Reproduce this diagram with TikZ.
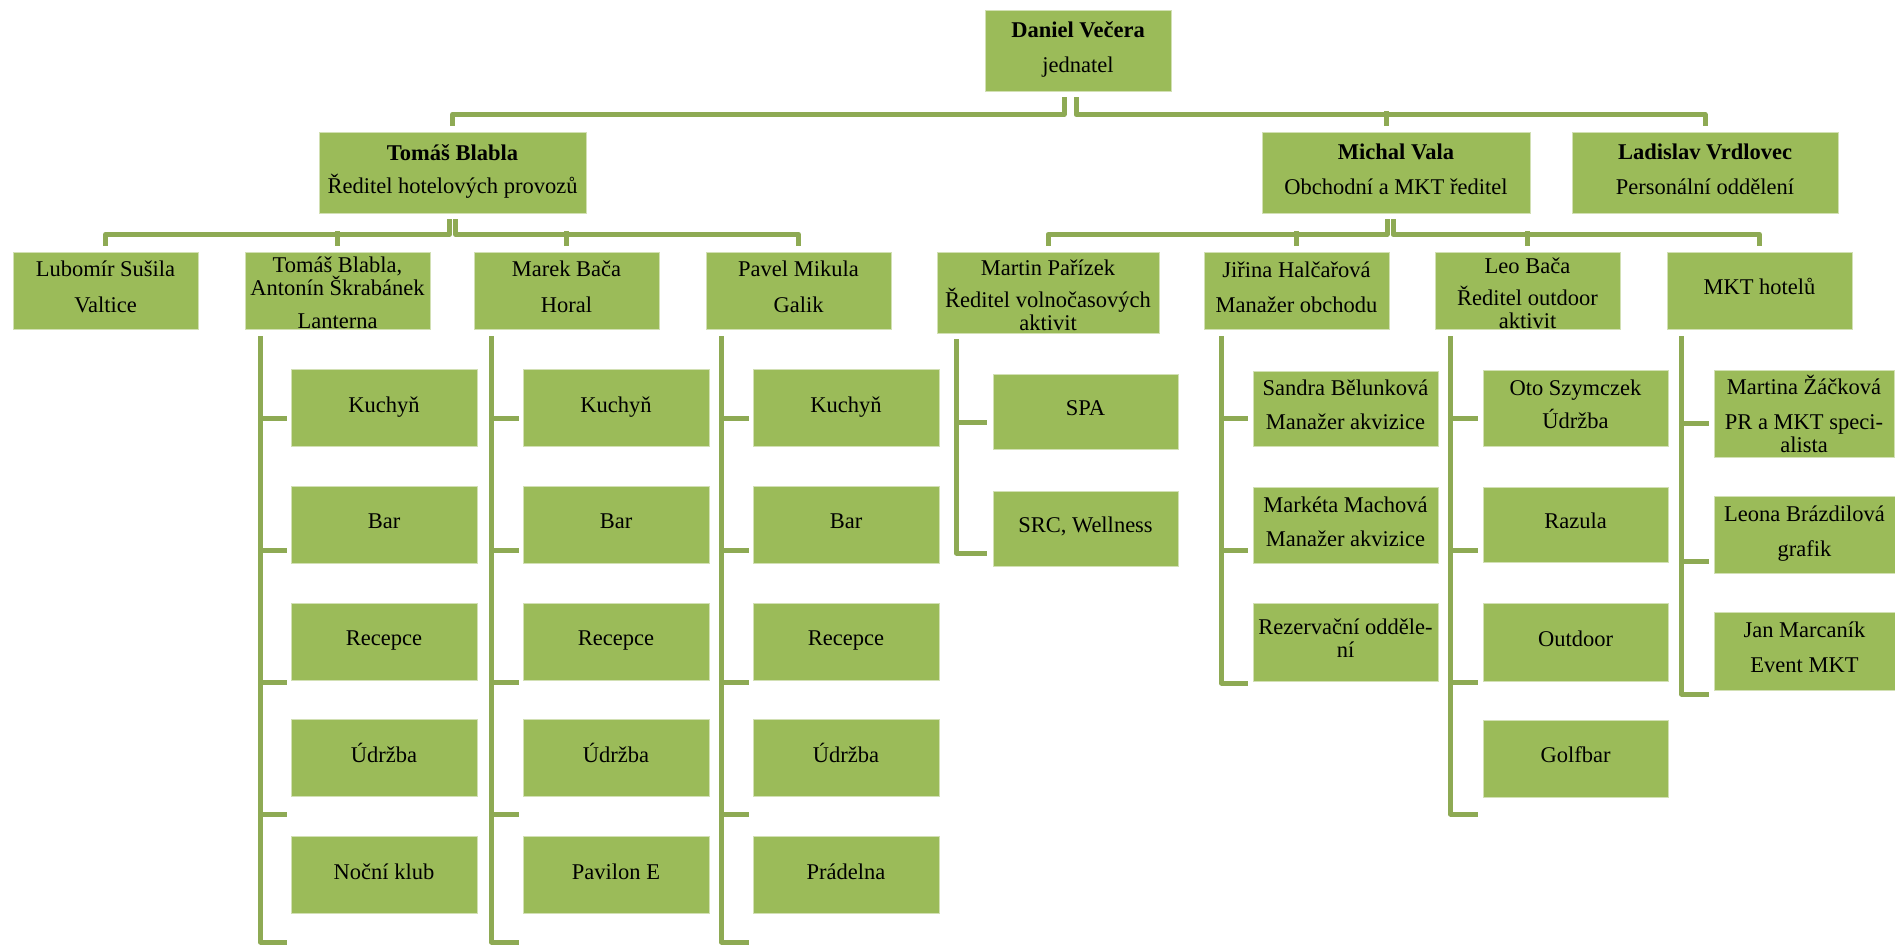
\documentclass[tikz,border=0pt]{standalone}
\usepackage{fontspec}
\setmainfont{Liberation Serif}
\usetikzlibrary{calc}
\definecolor{boxg}{RGB}{155,187,89}
\definecolor{lineg}{RGB}{142,170,84}
\newcommand\hs{\rule{0pt}{0.9em}}
\newcommand\ds{\rule[-0.54em]{0pt}{0.54em}}
\newcommand\boxfont{\fontsize{22.5}{23}\selectfont\lineskiplimit=-100pt\relax}
\tikzset{
  box/.style={rectangle, fill=boxg, draw=white!55!boxg, line width=0.8pt,
    inner sep=0pt, align=center, font=\boxfont,
    minimum width=186pt, minimum height=77pt},
  conn/.style={draw=lineg, line width=5pt, line join=round},
}
\begin{document}
\begin{tikzpicture}[x=1pt,y=-1pt]
\useasboundingbox (0,0) rectangle (1895,946);

% level 1 and 2
\node[box,minimum height=81pt] (dv) at (1078,50.5) {\hs\textbf{Daniel Večera}\\[12pt]jednatel\ds};
\node[box,minimum width=267pt,minimum height=81pt] (tb) at (452.5,172.5) {\hs\textbf{Tomáš Blabla}\\[10pt]Ředitel hotelových provozů\ds};
\node[box,minimum width=268pt,minimum height=81pt] (mv) at (1396,172.5) {\hs\textbf{Michal Vala}\\[12pt]Obchodní a MKT ředitel\ds};
\node[box,minimum width=266pt,minimum height=81pt] (lv) at (1705,172.5) {\hs\textbf{Ladislav Vrdlovec}\\[12pt]Personální oddělení\ds};

% level 3
\node[box,minimum width=185pt] (ls) at (105.5,290.5) {\hs Lubomír Sušila\\[13pt]Valtice\ds};
\node[box,minimum width=185pt] (ta) at (337.5,290.5) {\hs Tomáš Blabla,\\Antonín Škrabánek\\[10pt]Lanterna};
\node[box,minimum width=185pt] (mb) at (566.5,290.5) {\hs Marek Bača\\[13pt]Horal\ds};
\node[box,minimum width=185pt] (pm) at (798.5,290.5) {\hs Pavel Mikula\\[13pt]Galik\ds};
\node[box,minimum width=222pt,minimum height=81pt] (mp) at (1048,292.5) {\hs Martin Pařízek\\[9pt]Ředitel volnočasových\\aktivit};
\node[box,minimum width=185pt] (jh) at (1296.5,290.5) {\hs Jiřina Halčařová\\[12pt]Manažer obchodu\ds};
\node[box,minimum width=185pt] (lb) at (1527.5,290.5) {\hs Leo Bača\\[9pt]Ředitel outdoor\\aktivit};
\node[box,minimum width=185pt] (mk) at (1759.5,290.5) {\hs\ds MKT hotelů};

% hotel columns
\foreach \c/\x in {a/384, b/616, c/846} {
  \node[box] (\c1) at (\x,408.2) {\hs\ds Kuchyň};
  \node[box] (\c2) at (\x,524.9) {\hs\ds Bar};
  \node[box] (\c3) at (\x,641.6) {\hs\ds Recepce};
  \node[box] (\c4) at (\x,758.3) {\hs\ds Údržba};
}
\node[box] (a5) at (384,875) {\hs\ds Noční klub};
\node[box] (b5) at (616,875) {\hs\ds Pavilon E};
\node[box] (c5) at (846,875) {\hs\ds Prádelna};

% Martin column
\node[box,minimum width=185pt,minimum height=75pt] (s1) at (1085.5,411.5) {\hs\ds SPA};
\node[box,minimum width=185pt,minimum height=75pt] (s2) at (1085.5,528.5) {\hs\ds SRC, Wellness};
% Jirina column
\node[box,minimum width=185pt,minimum height=75pt] (j1) at (1345.5,408.5) {\hs Sandra Bělunková\\[11pt]Manažer akvizice\ds};
\node[box,minimum width=185pt,minimum height=76pt] (j2) at (1345.5,525) {\hs Markéta Machová\\[11pt]Manažer akvizice\ds};
\node[box,minimum width=185pt,minimum height=78pt] (j3) at (1345.5,642) {\hs Rezervační odděle-\\ní\ds};
% Leo column
\node[box,minimum width=185pt,minimum height=76pt] (l1) at (1575.5,408) {\hs Oto Szymczek\\[10pt]Údržba\ds};
\node[box,minimum width=185pt,minimum height=75pt] (l2) at (1575.5,524.5) {\hs\ds Razula};
\node[box,minimum width=185pt,minimum height=78pt] (l3) at (1575.5,642) {\hs\ds Outdoor};
\node[box,minimum width=185pt,minimum height=77pt] (l4) at (1575.5,758.5) {\hs\ds Golfbar};
% MKT column
\node[box,minimum width=180pt,minimum height=87pt] (k1) at (1804,413.5) {\hs Martina Žáčková\\[12pt]PR a MKT speci-\\alista};
\node[box,minimum width=181pt,minimum height=77pt] (k2) at (1804.5,534.5) {\hs Leona Brázdilová\\[12pt]grafik\ds};
\node[box,minimum width=181pt,minimum height=78pt] (k3) at (1804.5,651) {\hs Jan Marcaník\\[12pt]Event MKT\ds};

% connectors: top level
\draw[conn] ([xshift=-14pt,yshift=-6pt]dv.south) -- ++(0,17) -| ([yshift=6pt]tb.north);
\draw[conn] ([xshift=-2pt,yshift=-6pt]dv.south) -- ++(0,17) -| ([yshift=6pt]lv.north);
\draw[conn] ([xshift=-10pt,yshift=6pt]mv.north) -- ++(0,-14.5);

% Tomas children
\draw[conn] ([xshift=-3pt,yshift=-6pt]tb.south) -- ++(0,15) -| ([yshift=6pt]ls.north);
\draw[conn] ([xshift=3pt,yshift=-6pt]tb.south) -- ++(0,15) -| ([yshift=6pt]pm.north);
\draw[conn] ([yshift=6pt]ta.north) -- ++(0,-14.5);
\draw[conn] ([yshift=6pt]mb.north) -- ++(0,-14.5);

% Michal children
\draw[conn] ([xshift=-9pt,yshift=-6pt]mv.south) -- ++(0,15) -| ([yshift=6pt]mp.north);
\draw[conn] ([xshift=-3pt,yshift=-6pt]mv.south) -- ++(0,15) -| ([yshift=6pt]mk.north);
\draw[conn] ([yshift=6pt]jh.north) -- ++(0,-14.5);
\draw[conn] ([yshift=6pt]lb.north) -- ++(0,-14.5);

% hotel column lines
\foreach \c/\p/\d in {a/ta/16, b/mb/18, c/pm/16} {
  \draw[conn] ($(\p.south west)+(\d,7)$) |- ([xshift=-4pt,yshift=-67pt]\c5.west);
  \foreach \i/\o in {1/9.8, 2/25.1, 3/40.4, 4/56.2} {
    \draw[conn] ([xshift=-4pt,yshift=-\o]\c\i.west) -- ++(-29,0);
  }
}

% Martin column lines
\draw[conn] ($(mp.south west)+(20,6)$) |- ([xshift=-6pt,yshift=-24.5]s2.west);
\draw[conn] ([xshift=-6pt,yshift=-10.5]s1.west) -- ++(-32.5,0);

% Jirina column lines
\draw[conn] ($(jh.south west)+(18,7)$) |- ([xshift=-5pt,yshift=-41]j3.west);
\draw[conn] ([xshift=-5pt,yshift=-9.5]j1.west) -- ++(-28.5,0);
\draw[conn] ([xshift=-5pt,yshift=-25]j2.west) -- ++(-28.5,0);

% Leo column lines
\draw[conn] ($(lb.south west)+(16,7)$) |- ([xshift=-5pt,yshift=-55.5]l4.west);
\draw[conn] ([xshift=-5pt,yshift=-10]l1.west) -- ++(-29.5,0);
\draw[conn] ([xshift=-5pt,yshift=-25.5]l2.west) -- ++(-29.5,0);
\draw[conn] ([xshift=-5pt,yshift=-40]l3.west) -- ++(-29.5,0);

% MKT column lines
\draw[conn] ($(mk.south west)+(15,7)$) |- ([xshift=-5pt,yshift=-43]k3.west);
\draw[conn] ([xshift=-5pt,yshift=-9.5]k1.west) -- ++(-29.5,0);
\draw[conn] ([xshift=-5pt,yshift=-26.5]k2.west) -- ++(-29.5,0);
\end{tikzpicture}
\end{document}
